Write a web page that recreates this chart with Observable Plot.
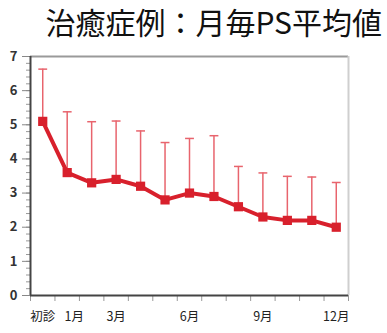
<!DOCTYPE html>
<html><head><meta charset="utf-8">
<script src="https://cdn.jsdelivr.net/npm/d3@7"></script>
<script src="https://cdn.jsdelivr.net/npm/@observablehq/plot@0.6"></script>
<style>
body{margin:0;background:#fff;width:387px;height:333px;overflow:hidden;font-family:"Noto Sans CJK JP","Noto Sans",sans-serif;}
#title{height:42px;line-height:42px;font-size:30px;text-align:right;padding-right:5px;color:#111;white-space:nowrap;}
</style></head>
<body>
<div id="title">治癒症例：月毎PS平均値</div>
<div id="chart"></div>
<script>
const categories = ["初診","1月","2月","3月","4月","5月","6月","7月","8月","9月","10月","11月","12月"];
const means = [5.1, 3.6, 3.3, 3.4, 3.2, 2.8, 3.0, 2.9, 2.6, 2.3, 2.2, 2.2, 2.0];
const upper = [6.63, 5.38, 5.09, 5.11, 4.82, 4.48, 4.6, 4.68, 3.78, 3.59, 3.49, 3.47, 3.31];
const labelledMonths = ["初診","3月","6月","9月","12月"];
const shiftedMonths = ["1月"];
const yTicks = [0,1,2,3,4,5,6,7];

const data = categories.map((c,i)=>({cat:c, i, mean:means[i], upper:upper[i]}));
const idx = c => categories.indexOf(c);
const boundaries = d3.range(categories.length + 1).map(k => k - 0.5);
const minor = d3.range(0, 35.5).map(k => k / 5);

const hline = {draw(ctx, size){ const w = Math.sqrt(size)/2; ctx.moveTo(-w,0); ctx.lineTo(w,0); }};

const red = "#d8202c";
const errRed = "#e8646d";

const plot = Plot.plot({
  width: 387, height: 291,
  marginLeft: 30, marginRight: 39, marginTop: 14, marginBottom: 38,
  style: {fontFamily: "'Noto Sans CJK JP', sans-serif", background: "#fff"},
  x: {domain: [-0.5, categories.length - 0.5]},
  y: {domain: [0, 7]},
  marks: [
    Plot.axisY(minor, {tickSize: 4, tickFormat: () => "", stroke: "#999", strokeWidth: 1}),
    Plot.axisY(yTicks, {tickSize: 8, tickPadding: 5, stroke: "#888", fill: "#333", fontSize: 13, fontWeight: "bold", label: null}),
    Plot.axisX(boundaries, {tickSize: 6, tickFormat: () => "", stroke: "#999", label: null}),
    Plot.axisX(labelledMonths.map(idx), {tickSize: 0, tickPadding: 17, tickFormat: i => categories[i], fill: "#222", fontSize: 12.5, label: null}),
    Plot.axisX(shiftedMonths.map(idx), {tickSize: 0, tickPadding: 17, dx: 7, tickFormat: i => categories[i], fill: "#222", fontSize: 12.5, label: null}),
    Plot.ruleY([7], {stroke: "#9a9a9a", strokeWidth: 2}),
    Plot.ruleX([categories.length - 0.5], {stroke: "#cfcfcf", strokeWidth: 2}),
    Plot.ruleX(data, {x: "i", y1: "mean", y2: "upper", stroke: errRed, strokeWidth: 1.5}),
    Plot.dot(data, {x: "i", y: "upper", symbol: hline, r: 5, stroke: errRed, strokeWidth: 1.5}),
    Plot.line(data, {x: "i", y: "mean", stroke: red, strokeWidth: 4}),
    Plot.dot(data, {x: "i", y: "mean", symbol: "square", r: 5.2, fill: red, stroke: "none"}),
    Plot.ruleX([-0.5], {stroke: "#444", strokeWidth: 2}),
    Plot.ruleY([0], {stroke: "#444", strokeWidth: 2})
  ]
});
document.getElementById("chart").appendChild(plot);
</script>
</body></html>
